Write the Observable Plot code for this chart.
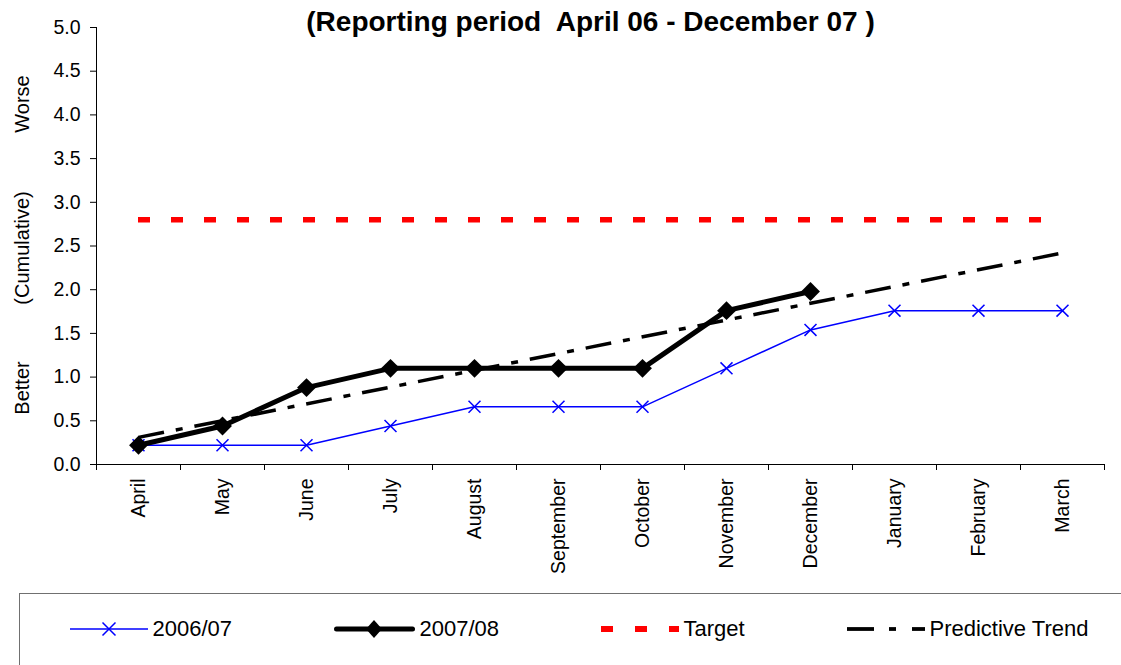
<!DOCTYPE html>
<html><head><meta charset="utf-8">
<script src="https://cdn.jsdelivr.net/npm/d3@7"></script>
<script src="https://cdn.jsdelivr.net/npm/@observablehq/plot@0.6"></script>
<style>
body{margin:0;background:#fff;font-family:"Liberation Sans",Arial,sans-serif;}
#wrap{position:relative;width:1121px;height:665px;overflow:hidden;}
#wrap svg{display:block;}
.side{position:absolute;left:22px;font-size:20px;transform:translate(-50%,-50%) rotate(-90deg);white-space:nowrap;color:#000;}
#legend{position:absolute;left:19px;top:593px;width:1120px;height:100px;border:1.5px solid #707070;box-sizing:border-box;}
.item{position:absolute;top:35px;transform:translateY(-50%);display:flex;align-items:center;font-size:22px;color:#000;white-space:nowrap;}
.item svg{margin-right:5px;}
</style></head><body><div id="wrap"></div>
<script>
// ---- data ----
const months = ["April","May","June","July","August","September","October","November","December","January","February","March"];
const season0607 = [0.22,0.22,0.22,0.44,0.66,0.66,0.66,1.10,1.54,1.76,1.76,1.76];
const season0708 = [0.22,0.44,0.88,1.10,1.10,1.10,1.10,1.76,1.98];
const targetValue = 2.8;
const trendValues = [0.31, 2.42]; // April, March
const yTicks = [0,0.5,1,1.5,2,2.5,3,3.5,4,4.5,5];
const title = "(Reporting period\u00a0 April 06 - December 07 )";
const sideLabels = ["Worse","(Cumulative)","Better"];
const seriesNames = ["2006/07","2007/08","Target","Predictive Trend"];

// ---- chart ----
const FONT = '"Liberation Sans", Arial, sans-serif';
const xi = (d, i) => i + 0.5;
const trendData = [{m: 0, v: trendValues[0]}, {m: months.length - 1, v: trendValues[1]}];

const chart = Plot.plot({
  width: 1121,
  height: 593,
  marginTop: 27,
  marginBottom: 129,
  marginLeft: 96,
  marginRight: 17,
  style: {fontFamily: FONT, color: "#000", background: "#fff", overflow: "visible"},
  x: {domain: [0, months.length], label: null},
  y: {domain: [0, 5], label: null},
  marks: [
    Plot.ruleY([0], {stroke: "#000", strokeWidth: 1}),
    Plot.ruleX([0], {stroke: "#000", strokeWidth: 1}),
    Plot.axisY({ticks: yTicks, tickFormat: d3.format(".1f"), tickSize: 6, tickPadding: 10, fontSize: 19.5, label: null, stroke: "#000"}),
    Plot.axisX({ticks: d3.range(0, months.length + 1), tickFormat: () => "", tickSize: 6, label: null, stroke: "#000"}),
    Plot.axisX({ticks: months.map((_, i) => i + 0.5), tickFormat: d => months[Math.floor(d)], tickSize: 0, tickPadding: 14, tickRotate: -90, fontSize: 19.5, label: null}),
    Plot.line(season0607, {x: xi, y: d => d, stroke: "#0000ff", strokeWidth: 1.5}),
    Plot.dot(season0607, {x: xi, y: d => d, symbol: "times", r: 5.5, stroke: "#0000ff", strokeWidth: 1.5}),
    Plot.line(season0708, {x: xi, y: d => d, stroke: "#000", strokeWidth: 5}),
    Plot.dot(season0708, {x: xi, y: d => d, symbol: "diamond2", r: 8.5, fill: "#000", stroke: "none"}),
    Plot.ruleY([targetValue], {x1: 0.5, x2: months.length - 0.5, stroke: "#ff0000", strokeWidth: 5.5, strokeDasharray: "12,21"}),
    Plot.line(trendData, {x: d => d.m + 0.5, y: "v", stroke: "#000", strokeWidth: 3.5, strokeDasharray: "26,12,7,12", strokeLinecap: "butt"}),
    Plot.text([title], {frameAnchor: "top", lineAnchor: "middle", dy: -5, dx: -10, fontSize: 28, fontWeight: "bold", fill: "#000"})
  ]
});
const wrap = document.getElementById("wrap");
wrap.appendChild(chart);

// side labels
const sideY = [104, 248, 388];
sideLabels.forEach((t, i) => {
  const d = document.createElement("div");
  d.className = "side";
  d.style.top = sideY[i] + "px";
  d.textContent = t;
  wrap.appendChild(d);
});

// legend
const legend = document.createElement("div");
legend.id = "legend";
wrap.appendChild(legend);
const swatches = [
  `<svg width="78" height="20"><line x1="0" y1="10" x2="78" y2="10" stroke="#0000ff" stroke-width="1.5"/><path d="M32.5,3.5L45.5,16.5M32.5,16.5L45.5,3.5" stroke="#0000ff" stroke-width="1.5"/></svg>`,
  `<svg width="81" height="20"><line x1="2.5" y1="10" x2="78.5" y2="10" stroke="#000" stroke-width="5" stroke-linecap="round"/><polygon points="40,1 48,10 40,19 32,10" fill="#000"/></svg>`,
  `<svg width="78" height="20"><g stroke="#ff0000" stroke-width="6"><line x1="0" y1="10" x2="12" y2="10"/><line x1="34" y1="10" x2="46" y2="10"/><line x1="68" y1="10" x2="78" y2="10"/></g></svg>`,
  `<svg width="78" height="20"><g stroke="#000" stroke-width="3.8"><line x1="0" y1="10" x2="27" y2="10"/><line x1="42" y1="10" x2="49" y2="10"/><line x1="65" y1="10" x2="78" y2="10"/></g></svg>`
];
const itemLeft = [70, 334, 601, 847];
seriesNames.forEach((name, i) => {
  const it = document.createElement("div");
  it.className = "item";
  it.style.left = (itemLeft[i] - 20.5) + "px";
  it.innerHTML = swatches[i] + `<span>${name}</span>`;
  legend.appendChild(it);
});
</script></body></html>
